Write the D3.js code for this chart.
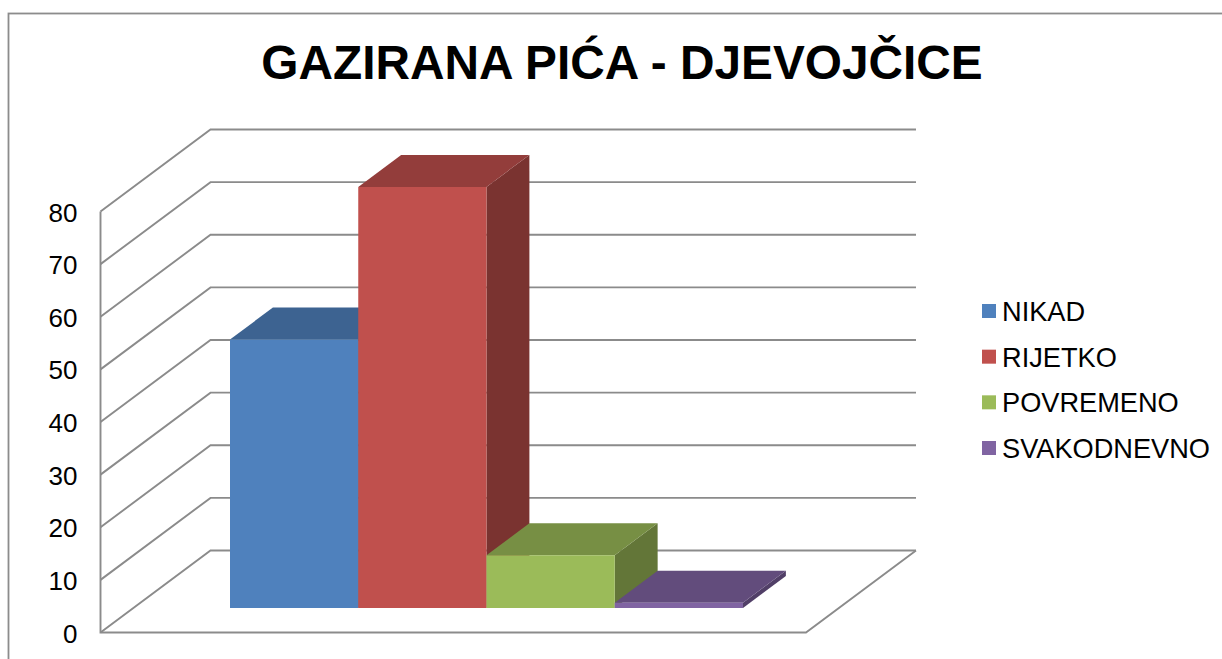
<!DOCTYPE html>
<html><head><meta charset="utf-8">
<style>html,body{margin:0;padding:0;background:#fff}svg{display:block}text{font-family:"Liberation Sans",Arial,sans-serif;fill:#000}</style>
<script src="https://cdn.jsdelivr.net/npm/d3@7/dist/d3.min.js"></script>
</head><body><svg id="c" width="1222" height="659"></svg>
<script>
const titleText = "GAZIRANA PIĆA - DJEVOJČICE";
const categories = ["NIKAD","RIJETKO","POVREMENO","SVAKODNEVNO"];
const values = [51,80,10,1];
const tickValues = [0,10,20,30,40,50,60,70,80];
const frontColors = ["#4f81bd","#c0504d","#9bbb59","#8064a2"];
const topColors = ["#3d6391","#933d3b","#778f44","#624c7c"];
const sideColors = ["#335378","#7a3330","#637638","#513f67"];

const svg = d3.select("#c");
const grid = "#8b8b8b";
const y = d3.scaleLinear().domain([0,80]).range([632.5,211.5]);
const x = d3.scaleBand().domain(categories).range([230,743]);
// oblique projection of the depth axis: depth 0 = front of the floor, 1 = back wall
const depth = {dx:110, dy:-82};
const barFront = 0.3, barBack = 0.69;
const px = (xv,d)=> xv + depth.dx*d;
const py = (v,d)=> y(v) + depth.dy*d;
const xFloorL = 100.5, xFloorR = 806;

svg.append("rect").attr("x",8.5).attr("y",13.5).attr("width",1300).attr("height",700)
  .attr("fill","#fff").attr("stroke","#8c8c8c").attr("stroke-width",1.8);

svg.append("text").attr("x",622).attr("y",79).attr("text-anchor","middle")
  .attr("font-size",47.8).attr("font-weight","bold").text(titleText);

const line = d3.line();
const gG = svg.append("g").attr("fill","none").attr("stroke",grid).attr("stroke-width",1.9);
tickValues.forEach(t=>{
  gG.append("path").attr("d",line([[px(xFloorL,0),py(t,0)],[px(xFloorL,1),py(t,1)],[px(xFloorR,1),py(t,1)]]));
});
gG.append("path").attr("d",line([[xFloorL,y(80)],[xFloorL,y(0)],[xFloorR,y(0)],[px(xFloorR,1),py(0,1)]]));

const gT = svg.append("g").attr("font-size",26).attr("text-anchor","end");
tickValues.forEach(t=>{
  gT.append("text").attr("x",77.5).attr("y",y(t)+10).text(t);
});

const bars = svg.append("g");
categories.forEach((c,i)=>{
  const l = x(c), r = x(c)+x.bandwidth(), v = values[i];
  const P=(xv,val,d)=>[xv+(depth.dx)*(d-barFront), y(val)+depth.dy*d];
  const poly=(pts,col)=>bars.append("path").attr("d",line(pts)+"Z").attr("fill",col);
  poly([P(r,0,barFront),P(r,0,barBack),P(r,v,barBack),P(r,v,barFront)],sideColors[i]);
  poly([P(l,v,barFront),P(r,v,barFront),P(r,v,barBack),P(l,v,barBack)],topColors[i]);
  poly([P(l,0,barFront),P(r,0,barFront),P(r,v,barFront),P(l,v,barFront)],frontColors[i]);
});

const gL = svg.append("g");
const legendY = d3.scalePoint().domain(categories).range([311,448]);
categories.forEach((c,i)=>{
  gL.append("rect").attr("x",982).attr("y",legendY(c)-7).attr("width",14).attr("height",14).attr("fill",frontColors[i]);
  gL.append("text").attr("x",1002).attr("y",legendY(c)+10).attr("font-size",27.2).text(c);
});
</script></body></html>
